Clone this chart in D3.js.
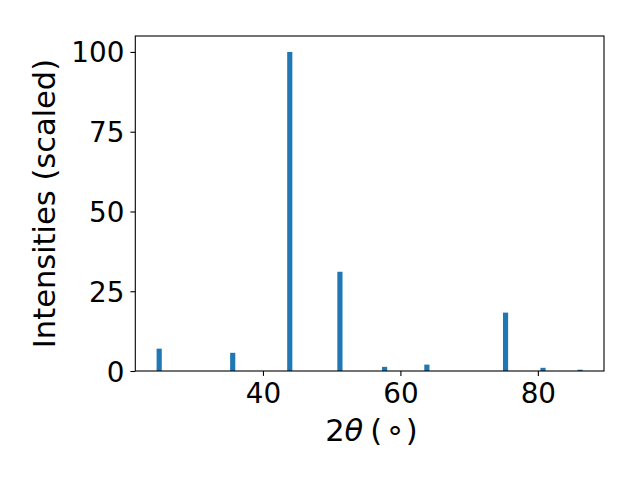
<!DOCTYPE html>
<html>
<head>
<meta charset="utf-8">
<script src="https://cdn.jsdelivr.net/npm/d3@7"></script>
<style>
  body { margin: 0; background: #fff; }
  text { font-family: "DejaVu Sans", sans-serif; fill: #000; }
</style>
</head>
<body>
<div class="chart"></div>
<script>
// peak positions (2 theta) and scaled intensities
const angles = [24.9, 35.6, 43.9, 51.2, 57.7, 63.85, 75.3, 80.75, 86.15];
const intensities = [7.0, 5.7, 100, 31.1, 1.3, 2.0, 18.3, 1.0, 0.4];
const xTicks = [40, 60, 80];
const yTicks = [0, 25, 50, 75, 100];

const width = 640;
const height = 480;
const plotLeft = 135.3, plotRight = 604, plotTop = 36, plotBottom = 371;
const barWidth = 0.75;
const tickFont = 27.8;   // 20pt
const labelFont = 30.5;  // 22pt

const svg = d3.select('.chart')
    .append('svg')
    .attr('width', width)
    .attr('height', height)

// matplotlib style 5% margins around the bars
const lo = d3.min(angles) - barWidth / 2
const hi = d3.max(angles) + barWidth / 2
const pad = (hi - lo) * 0.05

const x = d3.scaleLinear()
    .domain([lo - pad, hi + pad])
    .range([plotLeft, plotRight])

const y = d3.scaleLinear()
    .domain([0, d3.max(intensities) * 1.05])
    .range([plotBottom, plotTop])

const data = angles.map((a, i) => ({ angle: a, value: intensities[i] }))

svg.selectAll('.bar')
    .data(data)
    .enter()
    .append('rect')
    .attr('class', 'bar')
    .attr('x', d => x(d.angle - barWidth / 2))
    .attr('width', d => x(d.angle + barWidth / 2) - x(d.angle - barWidth / 2))
    .attr('y', d => y(d.value))
    .attr('height', d => y(0) - y(d.value))
    .attr('fill', '#1f77b4')

// axes
const xAxis = svg.append('g')
    .attr('transform', `translate(0,${plotBottom})`)
    .call(d3.axisBottom(x).tickValues(xTicks).tickSize(4.9).tickPadding(6))

const yAxis = svg.append('g')
    .attr('transform', `translate(${plotLeft},0)`)
    .call(d3.axisLeft(y).tickValues(yTicks).tickSize(4.9).tickPadding(6))

svg.selectAll('.domain').remove()
svg.selectAll('.tick line').attr('stroke', '#000').attr('stroke-width', 1.1)
svg.selectAll('.tick text')
    .attr('font-family', '"DejaVu Sans", sans-serif')
    .attr('font-size', tickFont)
    .attr('fill', '#000')
xAxis.selectAll('.tick text').attr('dy', '0.75em')
yAxis.selectAll('.tick text').attr('dy', '0.36em')

// frame
svg.append('rect')
    .attr('x', plotLeft)
    .attr('y', plotTop)
    .attr('width', plotRight - plotLeft)
    .attr('height', plotBottom - plotTop)
    .attr('fill', 'none')
    .attr('stroke', '#000')
    .attr('stroke-width', 1.1)

// x label: 2θ (°)
const cx = (plotLeft + plotRight) / 2
const base = 440.5
const xlabel = svg.append('text')
    .attr('font-size', labelFont)
    .attr('y', base)
xlabel.append('tspan').attr('x', cx - 44.5).text('2')
xlabel.append('tspan').attr('font-style', 'italic').text('θ')
xlabel.append('tspan').attr('x', cx + 0.5).text('(')
xlabel.append('tspan').attr('x', cx + 25.5).attr('y', base + 7).attr('text-anchor', 'middle').text('°')
xlabel.append('tspan').attr('x', cx + 36).attr('y', base).text(')')

// y label
svg.append('text')
    .attr('transform', `translate(54.5,${(plotTop + plotBottom) / 2}) rotate(-90)`)
    .attr('text-anchor', 'middle')
    .attr('font-size', labelFont)
    .text('Intensities (scaled)')
</script>
</body>
</html>
